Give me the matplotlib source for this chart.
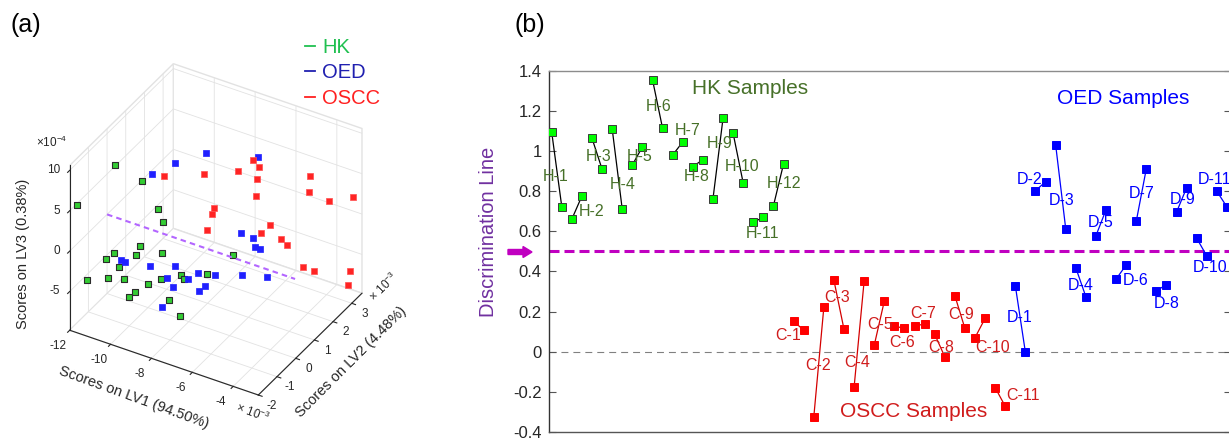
import numpy as np
import matplotlib
matplotlib.use('Agg')
import matplotlib.pyplot as plt
from matplotlib.lines import Line2D
from matplotlib.patches import FancyArrow
from matplotlib.transforms import IdentityTransform
from mpl_toolkits.mplot3d import proj3d

plt.rcParams['font.family'] = ['Liberation Sans', 'DejaVu Sans']
plt.rcParams['axes.unicode_minus'] = False
plt.rcParams['mathtext.default'] = 'regular'
plt.rcParams['lines.scale_dashes'] = False
plt.rcParams['grid.color'] = '#e2e2e2'
plt.rcParams['grid.linewidth'] = 0.6

# (a) PLS-DA scores: LV1, LV2 in 1e-3, LV3 in 1e-4
hk_lv1 = [-11.16, -10.27, -11.90, -9.32, -9.47, -9.67, -9.75, -10.74, -10.96, -10.23, -10.77, -11.61,
          -10.97, -10.90, -9.46, -9.65, -8.91, -8.16, -7.84, -9.82, -9.67, -8.51, -7.50, -6.77]
hk_lv2 = [-0.5, 0.0, -1.7, -0.2, 0.2, -0.8, 0.5, -1.0, -1.2, -0.4, -0.7, -1.5,
          -1.1, -0.3, -0.6, 0.3, 0.6, -0.1, 0.8, -0.9, -1.4, -0.5, -1.0, 1.0]
hk_lv3 = [8.01, 5.70, 5.09, 3.47, 0.77, -0.06, -4.00, -1.45, -1.93, -2.62, -3.90, -4.43,
          -4.53, -6.42, -5.06, -6.62, -6.24, -4.40, -5.60, -5.73, -5.07, -6.41, -6.40, -2.80]

oed_lv1 = [-8.08, -9.15, -9.81, -5.78, -5.89, -5.60, -4.92, -5.42, -11.14, -11.30, -10.28,
           -8.69, -9.61, -8.60, -8.75, -7.81, -7.82, -7.19, -7.85, -8.87, -6.33, -5.44]
oed_lv2 = [1.0, 0.5, 0.0, 1.3, 0.5, 0.8, 0.2, 1.0, -0.2, 0.2, 0.4,
           0.0, 0.6, -0.2, 0.8, 0.3, 1.2, 0.0, 0.4, -0.5, 1.0, 1.4]
oed_lv3 = [8.74, 7.70, 6.89, 9.60, 1.88, 0.83, 1.65, -0.79, -4.43, -5.80, -5.78,
           -3.48, -7.15, -5.64, -6.93, -4.33, -6.65, -4.69, -6.80, -7.59, -4.83, -5.28]

oscc_lv1 = [-9.41, -7.99, -6.71, -6.31, -5.47, -6.33, -5.97, -4.35, -4.14, -3.51, -2.98,
            -7.67, -7.40, -8.39, -5.68, -5.54, -5.51, -4.92, -4.59, -4.34, -3.04, -2.95]
oscc_lv2 = [0.2, 0.8, 1.2, 1.6, 1.0, 1.8, 1.4, 2.5, 2.2, 2.6, 3.3,
            1.0, 0.6, 1.4, 1.8, 1.2, 2.2, 1.9, 2.4, 2.7, 3.2, 3.0]
oscc_lv3 = [6.61, 6.73, 7.19, 8.08, 9.22, 5.28, 4.28, 5.75, 4.67, 3.15, 2.47,
            2.27, 2.71, -1.95, 0.06, 0.60, -2.36, -1.99, -5.57, -6.50, -6.50, -7.68]

# discrimination line in the LV1 direction (LV2 = 0, LV3 = 0)
disc_lv1 = [-12.0, -2.8]
disc_lv2 = [0.0, 0.0]
disc_lv3 = [0.0, 0.0]

lv1_ticks = [-12, -10, -8, -6, -4]
lv2_ticks = [-2, -1, 0, 1, 2, 3]
lv3_ticks = [-5, 0, 5, 10]

# (b) discrimination scores, two spectra per sample
hk_names = ['H-%d' % i for i in range(1, 13)]
oscc_names = ['C-%d' % i for i in range(1, 12)]
oed_names = ['D-%d' % i for i in range(1, 12)]
hk_scores = [1.093, 0.722, 0.661, 0.776, 1.063, 0.909, 1.110, 0.709, 0.930, 1.021, 1.355, 1.113,
             0.980, 1.045, 0.922, 0.957, 0.762, 1.164, 1.088, 0.840, 0.646, 0.669, 0.727, 0.935]
oscc_scores = [0.151, 0.108, -0.327, 0.221, 0.356, 0.112, -0.178, 0.353, 0.032, 0.252, 0.128,
               0.116, 0.128, 0.138, 0.087, -0.025, 0.279, 0.116, 0.070, 0.166, -0.179, -0.272]
oed_scores = [0.329, -0.003, 0.802, 0.847, 1.031, 0.613, 0.418, 0.274, 0.578, 0.707, 0.362,
              0.432, 0.650, 0.912, 0.304, 0.334, 0.696, 0.817, 0.565, 0.477, 0.799, 0.721]
threshold = 0.5

# where the sample names sit (data coords)
hk_name_pos = [(0.43, 0.875), (3.97, 0.70), (4.62, 0.975), (7.0, 0.834), (8.69, 0.975), (10.64, 1.224),
               (13.45, 1.10), (14.35, 0.872), (16.63, 1.035), (18.88, 0.922), (20.89, 0.59), (23.05, 0.839)]
oscc_name_pos = [(23.47, 0.08), (26.45, -0.071), (28.27, 0.271), (30.26, -0.055), (32.57, 0.138), (34.72, 0.047),
                 (36.87, 0.188), (38.62, 0.023), (40.58, 0.186), (43.75, 0.023), (46.79, -0.219)]
oed_name_pos = [(46.46, 0.169), (47.45, 0.859), (50.6, 0.752), (52.48, 0.332), (54.49, 0.643), (57.97, 0.357),
                (58.53, 0.786), (61.01, 0.238), (62.56, 0.756), (65.31, 0.42), (65.81, 0.859)]

W, H = 1229, 441
fig = plt.figure(figsize=(W / 100, H / 100), dpi=100)

# ---------------- (a) 3D score plot ----------------
ax3 = fig.add_axes([0.0, 0.0, 0.36, 1.0], projection='3d', proj_type='ortho', computed_zorder=False)
ax3.view_init(elev=35.5, azim=-59.4)
ax3.set_box_aspect((219.5, 204, 202.7))
xlim3, ylim3, zlim3 = (-12, -2.77), (-2, 3.55), (-9.8, 10.6)
ax3.set_xlim(xlim3)
ax3.set_ylim(ylim3)
ax3.set_zlim(zlim3)
ax3.set_xticks(lv1_ticks)
ax3.set_yticks(lv2_ticks)
ax3.set_zticks(lv3_ticks)
ax3.zaxis.set_ticks_position('lower')
for axis in (ax3.xaxis, ax3.yaxis, ax3.zaxis):
    axis.set_pane_color((1, 1, 1, 1))
    axis.pane.set_edgecolor('#e2e2e2')
    axis.line.set_color('#262626')
    axis.line.set_linewidth(0.8)
    axis._axinfo['tick']['inward_factor'] = 0.25
    axis._axinfo['tick']['outward_factor'] = 0.0
    # labels are written below, placed like MATLAB does
    axis.set_tick_params(labelbottom=False, color='#262626')


def label3d(x, y, z, s, **kw):
    # put a flat label at the projected spot of a 3D point
    px, py, _ = proj3d.proj_transform(x, y, z, ax3.get_proj())
    ax3.text2D(px, py, s, transform=ax3.transData, fontsize=8.5, color='#262626', **kw)


for v in lv1_ticks:
    label3d(v, -2.64, -10.3, '%g' % v, ha='center', va='center')
for v in lv2_ticks:
    label3d(-2.13, v, -10.55, '%g' % v, ha='center', va='center')
for v in lv3_ticks:
    label3d(-12.35, -2.134, v, '%g' % v, ha='right', va='center')

ax3.plot(disc_lv1, disc_lv2, disc_lv3, color='#b366ff', lw=1.5, dashes=(4, 3))
ax3.scatter(hk_lv1, hk_lv2, hk_lv3, marker='s', s=24, c='#33cc33', edgecolors='#2b2b2b',
            linewidths=0.8, depthshade=False)
ax3.scatter(oed_lv1, oed_lv2, oed_lv3, marker='s', s=24, c='#2020ff', edgecolors='#2020ff',
            linewidths=0.5, depthshade=False)
ax3.scatter(oscc_lv1, oscc_lv2, oscc_lv3, marker='s', s=24, c='#ff2424', edgecolors='#ff5050',
            linewidths=0.5, depthshade=False)

# fit the projected box onto the area it covers in the reference
fig.canvas.draw()
cx, cy, cz = np.array([[a, b, c] for a in xlim3 for b in ylim3 for c in zlim3]).T
px, py, _ = proj3d.proj_transform(cx, cy, cz, ax3.get_proj())
pts = ax3.transData.transform(np.column_stack([px, py]))
tx0, tx1, ty0, ty1 = 69.7, 362.0, H - 395.0, H - 63.7
sx = (tx1 - tx0) / (pts[:, 0].max() - pts[:, 0].min())
sy = (ty1 - ty0) / (pts[:, 1].max() - pts[:, 1].min())
s = 0.5 * (sx + sy)
pos = ax3.get_position()
side = pos.width * W * s
c0 = np.array([(pos.x0 + pos.width / 2) * W, (pos.y0 + pos.height / 2) * H])
b0 = np.array([(pts[:, 0].max() + pts[:, 0].min()) / 2, (pts[:, 1].max() + pts[:, 1].min()) / 2])
c1 = np.array([(tx0 + tx1) / 2, (ty0 + ty1) / 2]) - s * (b0 - c0)
ax3.set_position([(c1[0] - side / 2) / W, (c1[1] - side / 2) / H, side / W, side / H])

fig.text(134 / W, 1 - 398 / H, 'Scores on LV1 (94.50%)', rotation=-20, fontsize=10.5,
         color='#262626', ha='center', va='center')
fig.text(351 / W, 1 - 362 / H, 'Scores on LV2 (4.48%)', rotation=45, fontsize=10.5,
         color='#262626', ha='center', va='center')
fig.text(23 / W, 1 - 254 / H, 'Scores on LV3 (0.38%)', rotation=90, fontsize=10.5,
         color='#262626', ha='center', va='center')
fig.text(36 / W, 1 - 142 / H, r'$\times10^{-4}$', fontsize=8.5, color='#262626', ha='left', va='center')
fig.text(253 / W, 1 - 413 / H, r'$\times\ 10^{-3}$', rotation=-20, fontsize=8.5, color='#262626',
         ha='center', va='center')
fig.text(384 / W, 1 - 287 / H, r'$\times\ 10^{-3}$', rotation=45, fontsize=8.5, color='#262626',
         ha='center', va='center')

leg = fig.legend(handles=[Line2D([], [], color=c, lw=1.3) for c in ('#20c050', '#2020b0', '#ff2020')],
                 labels=['HK', 'OED', 'OSCC'], loc='upper left', bbox_to_anchor=(305 / W, 1 - 38 / H),
                 frameon=False, fontsize=14.5, handlelength=0.5, handletextpad=0.35,
                 labelspacing=0.32, borderpad=0, borderaxespad=0)
for t, c in zip(leg.get_texts(), ('#20c050', '#2020b0', '#ff2020')):
    t.set_color(c)

fig.text(11 / W, 1 - 25 / H, '(a)', fontsize=18, ha='left', va='center')
fig.text(515 / W, 1 - 25 / H, '(b)', fontsize=18, ha='left', va='center')

# ---------------- (b) discrimination scores ----------------
ax = fig.add_axes([549.3 / W, 9 / H, (1231 - 549.3) / W, 361.3 / H])
ax.set_xlim(-0.24, 67.4)
ax.set_ylim(-0.4, 1.4)
yt = np.round(np.arange(-0.4, 1.41, 0.2), 1)
ax.set_yticks(yt)
ax.set_yticklabels(['%g' % v for v in yt])
ax.set_xticks([])
ax.tick_params(axis='y', direction='in', length=5, width=0.8, pad=5.5, labelsize=12,
               right=True, color='#555555', labelcolor='#262626')
ax.spines['left'].set_color('#333333')
ax.spines['bottom'].set_color('#555555')
ax.spines['top'].set_color('#8c8c8c')
ax.spines['right'].set_color('#8c8c8c')
for sp in ax.spines.values():
    sp.set_linewidth(1.0)

ax.axhline(0, color='#808080', lw=0.8, dashes=(5, 3.6), zorder=1)
ax.axhline(threshold, color='#c000c0', lw=2.2, dashes=(7.2, 3.6), zorder=2)

groups = [
    (hk_scores, hk_names, hk_name_pos, 0, '#00ff00', '#3a3a3a', 'black', '#467028'),
    (oscc_scores, oscc_names, oscc_name_pos, len(hk_scores), '#ff0000', '#ff0000', '#d40000', '#d01c1c'),
    (oed_scores, oed_names, oed_name_pos, len(hk_scores) + len(oscc_scores), '#0000ff', '#0000ff', '#0000ff', '#0000ff'),
]
for scores, names, name_pos, start, face, edge, line_c, text_c in groups:
    idx = np.arange(len(scores)) + start
    for k in range(len(names)):
        i0, i1 = idx[2 * k], idx[2 * k + 1]
        ax.plot([i0, i1], [scores[2 * k], scores[2 * k + 1]], color=line_c, lw=0.9, zorder=3)
    ax.plot(idx, scores, 's', ls='none', ms=5.6, mfc=face, mec=edge, mew=0.7, zorder=4)
    for name, (nx, ny) in zip(names, name_pos):
        ax.text(nx, ny, name, color=text_c, fontsize=11.5, ha='center', va='center', zorder=5)

ax.text(19.67, 1.312, 'HK Samples', color='#467028', fontsize=15, ha='center', va='center')
ax.text(35.9, -0.298, 'OSCC Samples', color='#d01c1c', fontsize=15, ha='center', va='center')
ax.text(56.71, 1.262, 'OED Samples', color='#0000ff', fontsize=15, ha='center', va='center')

fig.text(488 / W, 1 - 232 / H, 'Discrimination Line', rotation=90, color='#7030a0', fontsize=14.5,
         ha='center', va='center')
fig.add_artist(FancyArrow(508, H - 252, 24, 0, width=5, head_width=11, head_length=9,
                          length_includes_head=True, color='#c000c0', transform=IdentityTransform()))

fig.savefig('out.png', dpi=100)
